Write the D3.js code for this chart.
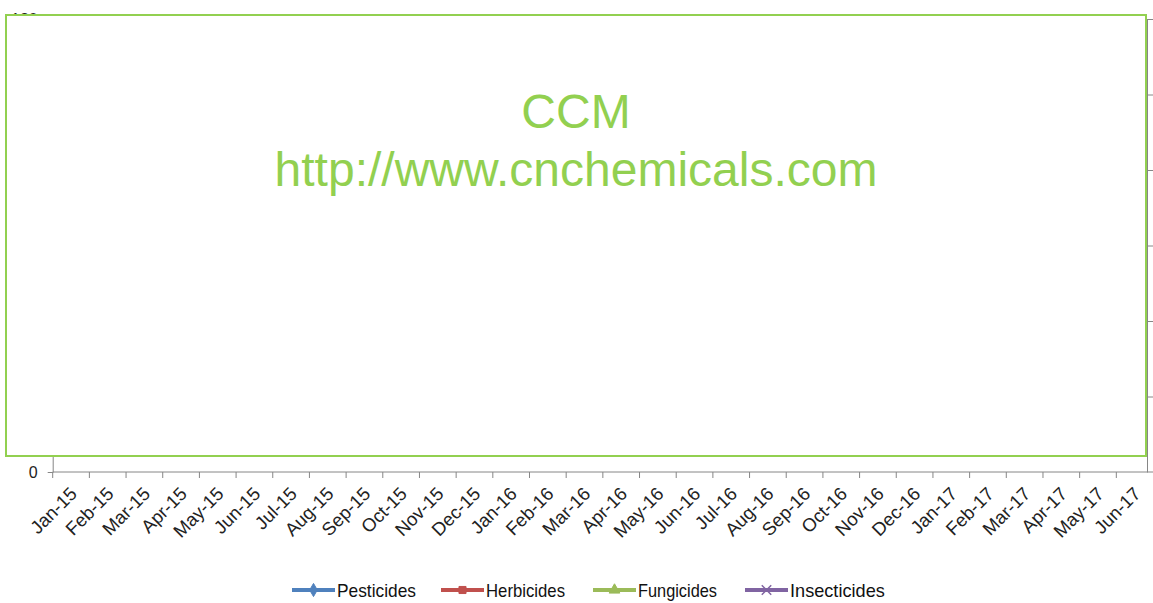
<!DOCTYPE html>
<html>
<head>
  <meta charset="UTF-8">
  <style>
    body { margin: 0; background: white; font-family: "Liberation Sans", Arial, sans-serif; }
    .axis path, .axis line { stroke: #868686; }
    .axis text { fill: #222; }
  </style>
</head>
<body>
<svg></svg>
<script src="https://d3js.org/d3.v7.min.js"></script>
<script>

let width = 1153, height = 603;

// categories (monthly, Jan-15 .. Jun-17)
let months = ["Jan-15","Feb-15","Mar-15","Apr-15","May-15","Jun-15","Jul-15","Aug-15","Sep-15","Oct-15","Nov-15","Dec-15",
  "Jan-16","Feb-16","Mar-16","Apr-16","May-16","Jun-16","Jul-16","Aug-16","Sep-16","Oct-16","Nov-16","Dec-16",
  "Jan-17","Feb-17","Mar-17","Apr-17","May-17","Jun-17"];
let yTicks = [0, 20, 40, 60, 80, 100, 120];
let seriesNames = ["Pesticides", "Herbicides", "Fungicides", "Insecticides"];
let seriesColors = ["#4F81BD", "#C0504D", "#9BBB59", "#8064A2"];
let seriesMarkers = [d3.symbolDiamond, d3.symbolSquare, d3.symbolTriangle, d3.symbolX];
let watermark = ["CCM", "http://www.cnchemicals.com"];

let svg = d3.select("svg").attr("width", width).attr("height", height);

let x = d3.scaleBand().domain(months).range([52.7, 1153]);
let y = d3.scaleLinear().domain([0, 120]).range([472, 19]);

// left axis
svg.append("g")
    .attr("class", "axis")
    .attr("transform", "translate(52.7,0)")
    .call(d3.axisLeft(y).tickValues(yTicks).tickSize(5).tickSizeOuter(0).tickPadding(10))
    .call(g => g.selectAll("text").style("font-size", "16px"));

// right axis (ticks only visible)
svg.append("g")
    .attr("class", "axis")
    .attr("transform", "translate(1147,0)")
    .call(d3.axisRight(y).tickValues(yTicks.slice(1)).tickSize(6).tickSizeOuter(0).tickFormat(""));

// bottom axis
let xAxis = svg.append("g")
    .attr("class", "axis")
    .attr("transform", "translate(0,472)");

xAxis.append("line")
    .attr("x1", 52.7).attr("x2", width)
    .attr("stroke", "#868686");

xAxis.selectAll(".tk")
    .data(months)
    .enter()
    .append("line")
    .attr("class", "tk")
    .attr("x1", d => x(d)).attr("x2", d => x(d))
    .attr("y1", 0).attr("y2", 6);

xAxis.selectAll(".lbl")
    .data(months)
    .enter()
    .append("text")
    .attr("class", "lbl")
    .attr("text-anchor", "end")
    .attr("transform", d => `translate(${x(d) + x.bandwidth() / 2 + 7}, 23) rotate(-45)`)
    .style("font-size", "18.5px")
    .text(d => d);

// legend
let legendX = [292, 441, 593, 745];
let legend = svg.append("g").attr("transform", "translate(0,590)");
seriesNames.forEach((name, i) => {
  let g = legend.append("g").attr("transform", `translate(${legendX[i]},0)`);
  g.append("line")
      .attr("x1", 0).attr("x2", 43)
      .attr("stroke", seriesColors[i]).attr("stroke-width", 4);
  g.append("path")
      .attr("transform", "translate(21.5,0)")
      .attr("d", d3.symbol().type(seriesMarkers[i]).size(i === 3 ? 60 : 50)())
      .attr("fill", seriesColors[i])
      .attr("stroke", seriesColors[i])
      .attr("stroke-width", i === 3 ? 1.5 : 1);
  g.append("text")
      .attr("x", 45).attr("y", 7)
      .style("font-size", "19px")
      .attr("fill", "#111")
      .attr("textLength", name.length * 7.9)
      .attr("lengthAdjust", "spacingAndGlyphs")
      .text(name);
});

// watermark box covering the plot
svg.append("rect")
    .attr("x", 6).attr("y", 15)
    .attr("width", 1140).attr("height", 441)
    .attr("fill", "white")
    .attr("stroke", "#92D050")
    .attr("stroke-width", 2);

svg.selectAll(".wm")
    .data(watermark)
    .enter()
    .append("text")
    .attr("class", "wm")
    .attr("x", 576)
    .attr("y", (d, i) => 128 + i * 58)
    .attr("text-anchor", "middle")
    .attr("fill", "#92D050")
    .style("font-size", "48px")
    .text(d => d);

</script>
</body>
</html>
